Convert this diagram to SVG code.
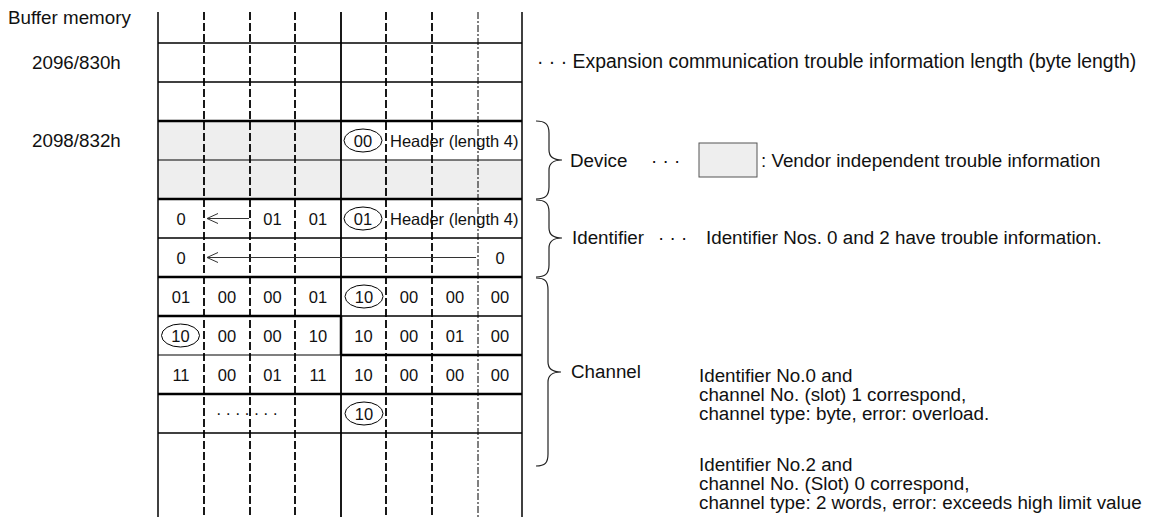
<svg xmlns="http://www.w3.org/2000/svg" width="1159" height="527" viewBox="0 0 1159 527">
<style>
text{font-family:"Liberation Sans",Arial,sans-serif;fill:#111}
.lbl{font-size:18.8px}
.cell{font-size:16.5px;text-anchor:middle}
.hdr{font-size:16.5px}
.solid{stroke:#000;fill:none}
.dash{stroke:#000;stroke-width:1.8;stroke-dasharray:8,3}
.dd{stroke:#000;stroke-width:1;stroke-dasharray:7,2,2,2}
.ell{fill:none;stroke:#000;stroke-width:1}
.brace{fill:none;stroke:#222;stroke-width:1.2}
.arr{stroke:#333;stroke-width:1;marker-end:url(#ah)}
.grey{fill:#eeeeee}
</style>
<defs>
<marker id="ah" markerUnits="userSpaceOnUse" markerWidth="12" markerHeight="12" refX="11" refY="6" orient="auto" viewBox="0 0 12 12">
<path d="M0,1 L11,6 L0,11" fill="none" stroke="#333" stroke-width="1"/>
</marker>
</defs>

<g id="labels-left">
<text class="lbl" x="8" y="24">Buffer memory</text>
<text class="lbl" x="32" y="69">2096/830h</text>
<text class="lbl" x="32" y="147">2098/832h</text>
</g>

<g id="table">
<rect class="grey" x="158" y="121" width="183" height="39"/>
<rect class="grey" x="158" y="160" width="364" height="39"/>
<line class="solid" x1="158" y1="12" x2="158" y2="517" stroke-width="1.5"/>
<line class="solid" x1="341" y1="12" x2="341" y2="517" stroke-width="1.8"/>
<line class="solid" x1="522" y1="12" x2="522" y2="517" stroke-width="1.5"/>
<line class="dash" x1="204" y1="12" x2="204" y2="517"/>
<line class="dash" x1="250" y1="12" x2="250" y2="517"/>
<line class="dash" x1="295" y1="12" x2="295" y2="517"/>
<line class="dash" x1="386" y1="12" x2="386" y2="517"/>
<line class="dash" x1="432" y1="12" x2="432" y2="517"/>
<line class="dd" x1="478" y1="12" x2="478" y2="517"/>
<line class="solid" x1="158" y1="43" x2="522" y2="43" stroke-width="1.5"/>
<line class="solid" x1="158" y1="82" x2="522" y2="82" stroke-width="1.5"/>
<line class="solid" x1="158" y1="121" x2="522" y2="121" stroke-width="2.5"/>
<line class="solid" x1="158" y1="160" x2="522" y2="160" stroke-width="1"/>
<line class="solid" x1="158" y1="199" x2="522" y2="199" stroke-width="2.5"/>
<line class="solid" x1="158" y1="238" x2="522" y2="238" stroke-width="1.5"/>
<line class="solid" x1="158" y1="277" x2="522" y2="277" stroke-width="2.5"/>
<line class="solid" x1="158" y1="316" x2="341" y2="316" stroke-width="2.5"/>
<line class="solid" x1="341" y1="316" x2="522" y2="316" stroke-width="1.5"/>
<line class="solid" x1="341" y1="316" x2="341" y2="355" stroke-width="2.5"/>
<line class="solid" x1="158" y1="355" x2="341" y2="355" stroke-width="1.2"/>
<line class="solid" x1="341" y1="355" x2="522" y2="355" stroke-width="2.5"/>
<line class="solid" x1="158" y1="394" x2="522" y2="394" stroke-width="2.5"/>
<line class="solid" x1="158" y1="433" x2="522" y2="433" stroke-width="1.5"/>
</g>

<g id="cells">
<ellipse class="ell" cx="363" cy="140.5" rx="19" ry="11.5"/>
<text class="cell" x="363" y="146.5">00</text>
<text class="hdr" x="390" y="146.5">Header (length 4)</text>

<text class="cell" x="181" y="224.5">0</text>
<text class="cell" x="272.5" y="224.5">01</text>
<text class="cell" x="318" y="224.5">01</text>
<ellipse class="ell" cx="363" cy="218.5" rx="19" ry="11.5"/>
<text class="cell" x="363" y="224.5">01</text>
<text class="hdr" x="390" y="224.5">Header (length 4)</text>

<text class="cell" x="181" y="263.5">0</text>
<text class="cell" x="500" y="263.5">0</text>

<text class="cell" x="181" y="302.5">01</text>
<text class="cell" x="227" y="302.5">00</text>
<text class="cell" x="272.5" y="302.5">00</text>
<text class="cell" x="318" y="302.5">01</text>
<ellipse class="ell" cx="364" cy="296.5" rx="19" ry="11.5"/>
<text class="cell" x="364" y="302.5">10</text>
<text class="cell" x="409" y="302.5">00</text>
<text class="cell" x="455" y="302.5">00</text>
<text class="cell" x="500" y="302.5">00</text>

<ellipse class="ell" cx="180.5" cy="335.5" rx="19" ry="11.5"/>
<text class="cell" x="180.5" y="341.5">10</text>
<text class="cell" x="227" y="341.5">00</text>
<text class="cell" x="272.5" y="341.5">00</text>
<text class="cell" x="318" y="341.5">10</text>
<text class="cell" x="363.5" y="341.5">10</text>
<text class="cell" x="409" y="341.5">00</text>
<text class="cell" x="455" y="341.5">01</text>
<text class="cell" x="500" y="341.5">00</text>

<text class="cell" x="181" y="380.5">11</text>
<text class="cell" x="227" y="380.5">00</text>
<text class="cell" x="272.5" y="380.5">01</text>
<text class="cell" x="318" y="380.5">11</text>
<text class="cell" x="363.5" y="380.5">10</text>
<text class="cell" x="409" y="380.5">00</text>
<text class="cell" x="455" y="380.5">00</text>
<text class="cell" x="500" y="380.5">00</text>

<text class="cell" x="249" y="419" letter-spacing="3.9">·······</text>
<ellipse class="ell" cx="364" cy="413.5" rx="19" ry="11.5"/>
<text class="cell" x="364" y="419.5">10</text>
</g>

<g id="connectors">
<line class="arr" x1="249" y1="218.5" x2="207" y2="218.5"/>
<line class="arr" x1="476" y1="257.5" x2="207" y2="257.5"/>
<path id="brace-device" class="brace" d="M536,121 C545,121 549,124 549,133 L549,150 C549,156 552,160 562,160 C552,160 549,164 549,170 L549,187 C549,196 545,199 536,199"/>
<path id="brace-identifier" class="brace" d="M536,200 C545,200 549,203 549,212 L549,228 C549,234 552,238 562,238 C552,238 549,242 549,248 L549,265 C549,274 545,277 536,277"/>
<path id="brace-channel" class="brace" d="M536,278 C545,278 548,281 548,290 L548,362 C548,368 551,372 561,372 C551,372 548,376 548,382 L548,454 C548,463 545,466 536,466"/>
</g>

<g id="expansion-note">
<text x="537" y="68" font-size="19.4">· · · Expansion communication trouble information length (byte length)</text>
</g>

<g id="device-note">
<text class="lbl" x="570" y="166.5">Device</text>
<text class="lbl" x="651" y="166.5">· · ·</text>
<rect x="699" y="143" width="58" height="34" fill="#eeeeee" stroke="#555" stroke-width="1"/>
<text class="lbl" x="761" y="166.5">: Vendor independent trouble information</text>
</g>

<g id="identifier-note">
<text class="lbl" x="572" y="244">Identifier</text>
<text class="lbl" x="658" y="244">· · ·</text>
<text class="lbl" x="706" y="244">Identifier Nos. 0 and 2 have trouble information.</text>
</g>

<g id="channel-note">
<text class="lbl" x="571" y="378">Channel</text>
<text class="lbl" x="699" y="382">Identifier No.0 and</text>
<text class="lbl" x="699" y="401">channel No. (slot) 1 correspond,</text>
<text class="lbl" x="699" y="420">channel type: byte, error: overload.</text>
<text class="lbl" x="699" y="471">Identifier No.2 and</text>
<text class="lbl" x="699" y="490">channel No. (Slot) 0 correspond,</text>
<text class="lbl" x="699" y="509">channel type: 2 words, error: exceeds high limit value</text>
</g>
</svg>
